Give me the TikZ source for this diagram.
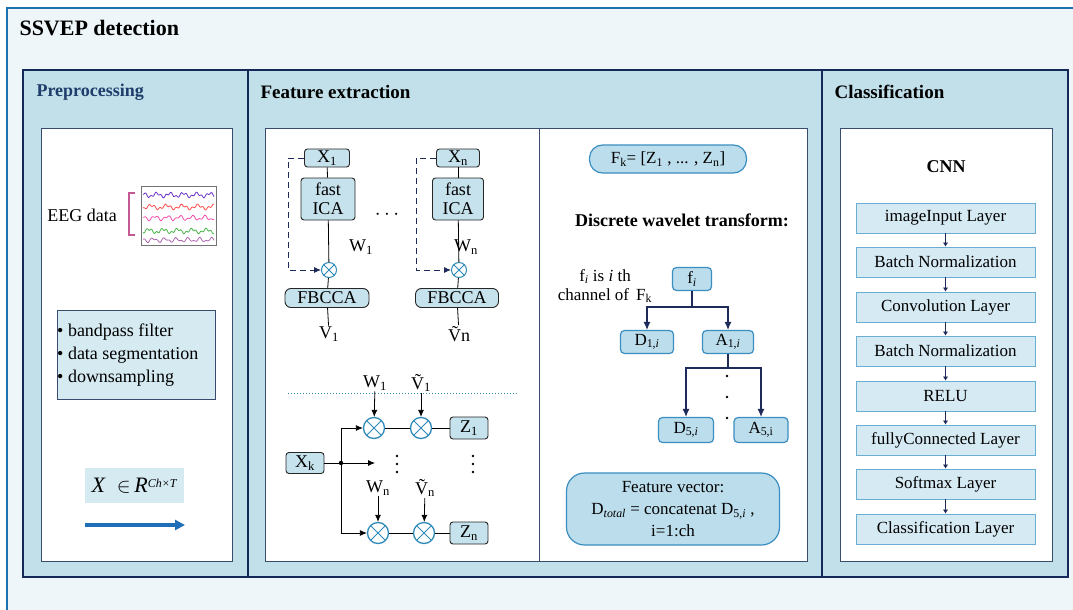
\documentclass[tikz,border=0pt]{standalone}
\usepackage{fontspec}
\setmainfont{Liberation Serif}
\usepackage{tikz}
\usetikzlibrary{arrows.meta,positioning,calc}
\definecolor{OuterFill}{HTML}{EEF6F9}
\definecolor{OuterLine}{HTML}{1F72B0}
\definecolor{PanelFill}{HTML}{C1E0EA}
\definecolor{PanelLine}{HTML}{14285A}
\definecolor{BoxLine}{HTML}{3A4C6E}
\definecolor{IcaFill}{HTML}{C6E2EC}
\definecolor{DwtFill}{HTML}{BCDDEC}
\definecolor{DwtLine}{HTML}{3A8EC0}
\definecolor{LayerFill}{HTML}{D6EAF3}
\definecolor{LayerLine}{HTML}{6BAED3}
\definecolor{MultBlue}{HTML}{2E8AB8}
\definecolor{ArrNavy}{HTML}{1E2A5A}
\definecolor{PreTitle}{HTML}{1F3D6B}
\definecolor{BulletFill}{HTML}{D6EAF2}
\definecolor{XArrow}{HTML}{1E6FB8}

\begin{document}
\begin{tikzpicture}[x=1pt,y=-1pt,
  panel/.style={draw=PanelLine,fill=PanelFill,line width=2.8pt},
  whitebox/.style={draw=BoxLine,fill=white,line width=1pt},
  sectitle/.style={anchor=west,font=\fontsize{19}{22}\selectfont\bfseries},
  body/.style={font=\fontsize{18}{21}\selectfont},
  ica/.style={draw=black!85,fill=IcaFill,rounded corners=3pt,line width=0.9pt,
              inner sep=0pt,align=center,font=\fontsize{18}{19}\selectfont},
  dwt/.style={draw=DwtLine,fill=DwtFill,rounded corners=4pt,line width=1.2pt,
              inner sep=0pt,align=center,font=\fontsize{17}{20}\selectfont},
  layer/.style={draw=LayerLine,fill=LayerFill,line width=0.9pt,minimum width=179pt,
                minimum height=30pt,inner sep=0pt,font=\fontsize{17}{20}\selectfont},
  mult/.style={circle,draw=MultBlue,fill=white,line width=1pt,inner sep=0pt,
               path picture={\draw[MultBlue,line width=1pt]
                 (path picture bounding box.north west) -- (path picture bounding box.south east)
                 (path picture bounding box.north east) -- (path picture bounding box.south west);}},
  link/.style={black,line width=0.8pt},
  arr/.style={-{Latex[length=7pt,width=6pt]},black,line width=0.8pt},
  navyarr/.style={-{Latex[length=8pt,width=7pt]},ArrNavy,line width=1.1pt},
  fbline/.style={-{Latex[length=7pt,width=6pt]},ArrNavy,dashed,dash pattern=on 6pt off 4pt,line width=0.9pt},
  tinyarr/.style={-{Latex[length=4pt,width=5pt]},ArrNavy,line width=0.4pt},
]
\useasboundingbox (0,0) rectangle (1073,610);
\draw[fill=OuterFill,draw=OuterLine,line width=2pt] (7,8) rectangle (1090,625);
\node[anchor=west,font=\fontsize{22}{24}\selectfont\bfseries] (title) at (16,28) {SSVEP detection};

\draw[panel] (23,70) rectangle (248,577);
\draw[panel] (248,70) rectangle (822,577);
\draw[panel] (822,70) rectangle (1068,577);
\node[sectitle,text=PreTitle,font=\fontsize{18}{22}\selectfont\bfseries] (pretitle) at (33,92) {Preprocessing};
\node[sectitle] (feattitle) at (257,92) {Feature extraction};
\node[sectitle] (clstitle) at (831,92) {Classification};

\draw[whitebox] (41,128) rectangle (232,561);
\draw[whitebox] (265,128) rectangle (539,561);
\draw[whitebox] (539,128) rectangle (807,561);
\draw[whitebox] (840,128) rectangle (1052,561);

% preprocessing
\node[body] (eeg) at (82,215) {EEG data};
\draw[draw=black!55,fill=white,line width=0.8pt] (141,186) rectangle (216,245);
\draw[color=magenta!70!black!80,line width=1.2pt] (135,193) -- (129,193) -- (129,235) -- (135,235);
\draw[color=blue!45!violet!80,line width=0.8pt] plot[domain=143:214,samples=80] (\x,{195+1.8*sin(\x*27)+1.2*sin(\x*71)});
\draw[color=red!70,line width=0.8pt] plot[domain=143:214,samples=80] (\x,{207+1.8*sin(\x*23+40)+1.2*sin(\x*67)});
\draw[color=magenta!70,line width=0.8pt] plot[domain=143:214,samples=80] (\x,{218+1.8*sin(\x*29+90)+1.1*sin(\x*61)});
\draw[color=green!60!black!70,line width=0.8pt] plot[domain=143:214,samples=80] (\x,{231+1.8*sin(\x*25+150)+1.2*sin(\x*73)});
\draw[color=violet!60,line width=0.8pt] plot[domain=143:214,samples=80] (\x,{240+1.6*sin(\x*31+200)+1.1*sin(\x*59)});
\draw[draw=BoxLine,fill=BulletFill,line width=0.9pt] (57,310) rectangle (215,399);
\node[body,anchor=west,align=left,inner sep=0pt,font=\fontsize{18}{23}\selectfont] (steps) at (57,355)
  {\textbullet\ bandpass filter\\\textbullet\ data segmentation\\\textbullet\ downsampling};
\node[fill=BulletFill,minimum width=99pt,minimum height=35pt,inner sep=0pt,
      font=\fontsize{22}{24}\selectfont] (xin) at (134.5,485.5)
  {\textit{X}\ \ $\in$\,\textit{R}\raisebox{5pt}{\textit{\fontsize{12}{12}\selectfont Ch×T}}};
\coordinate (xa) at (85,525);
\coordinate (xb) at (185,525);
\draw[-{Triangle[length=10pt,width=10pt]},XArrow,line width=4pt] (xa) -- (xb);

% fast ICA + FBCCA
\node[ica,minimum width=45pt,minimum height=18pt] (x1) at (327,158) {X\textsubscript{1}};
\node[ica,minimum width=54pt,minimum height=42pt] (ica1) at (328,199) {fast\\ICA};
\node[mult,minimum size=15pt] (m1) at (329,270) {};
\node[ica,minimum width=84pt,minimum height=19pt,rounded corners=6pt] (fb1) at (327,298) {FBCCA};
\node[body,inner sep=1pt] (v1) at (329,334) {V\textsubscript{1}};
\node[body] (w1) at (361,247) {W\textsubscript{1}};
\draw[link] (x1) -- (ica1);
\draw[link] (ica1) -- (m1);
\draw[link] (m1) -- (fb1);
\draw[link] (fb1) -- (v1);
\coordinate (d1a) at (288,158);
\coordinate (d1b) at (288,270);
\draw[fbline] (x1.west) -- (d1a) -- (d1b) -- (m1);
\node[font=\fontsize{20}{20}\selectfont] (dots) at (387,215) {$\cdots$};
\node[ica,minimum width=43pt,minimum height=18pt] (xn) at (458,158) {X\textsubscript{n}};
\node[ica,minimum width=51pt,minimum height=42pt] (ica2) at (458,199) {fast\\ICA};
\node[mult,minimum size=15pt] (m2) at (459,270) {};
\node[ica,minimum width=83pt,minimum height=19pt,rounded corners=6pt] (fb2) at (457,298) {FBCCA};
\node[body,inner sep=1pt] (vn) at (459,334) {\~{V}n};
\node[body] (wn) at (466,247) {W\textsubscript{n}};
\draw[link] (xn) -- (ica2);
\draw[link] (ica2) -- (m2);
\draw[link] (m2) -- (fb2);
\draw[link] (fb2) -- (vn);
\coordinate (d2a) at (416,158);
\coordinate (d2b) at (416,270);
\draw[fbline] (xn.west) -- (d2a) -- (d2b) -- (m2);
\coordinate (sepa) at (288,393);
\coordinate (sepb) at (517,393);
\draw[MultBlue,dotted,line width=1pt] (sepa) -- (sepb);

% projection onto W and V
\node[ica,minimum width=38pt,minimum height=21pt] (xk) at (305,463) {X\textsubscript{k}};
\coordinate (jn) at (341,463);
\coordinate (mid) at (375,463);
\node[mult,minimum size=21pt,line width=1.3pt] (p1) at (374,428) {};
\node[mult,minimum size=21pt,line width=1.3pt] (q1) at (421,428) {};
\node[ica,minimum width=38pt,minimum height=22pt] (z1) at (469,428) {Z\textsubscript{1}};
\node[mult,minimum size=21pt,line width=1.3pt] (pn) at (378,533) {};
\node[mult,minimum size=21pt,line width=1.3pt] (qn) at (424,533) {};
\node[ica,minimum width=38pt,minimum height=22pt] (zn) at (469,533) {Z\textsubscript{n}};
\node[body,inner sep=1pt] (lw1) at (375,383) {W\textsubscript{1}};
\node[body,inner sep=1pt] (lv1) at (421,383) {\~{V}\textsubscript{1}};
\node[body,inner sep=1pt] (lwn) at (378,488) {W\textsubscript{n}};
\node[body,inner sep=1pt] (lvn) at (425,488) {\~{V}\textsubscript{n}};
\fill (397,456) circle (1.3);
\fill (397,464) circle (1.3);
\fill (397,472) circle (1.3);
\fill (473,456) circle (1.3);
\fill (473,464) circle (1.3);
\fill (473,472) circle (1.3);
\draw[link] (xk) -- (jn);
\fill (jn) circle (2.2);
\draw[arr] (jn) |- (p1);
\draw[arr] (jn) |- (pn);
\draw[arr] (jn) -- (mid);
\draw[link] (p1) -- (q1);
\draw[link] (q1) -- (z1);
\draw[link] (pn) -- (qn);
\draw[link] (qn) -- (zn);
\draw[arr] (lw1) -- (p1);
\draw[arr] (lv1) -- (q1);
\draw[arr] (lwn) -- (pn);
\draw[arr] (lvn) -- (qn);

% wavelet decomposition
\node[dwt,minimum width=157pt,minimum height=28pt,rounded corners=13pt] (fk) at (668,159)
  {F\textsubscript{k}= [Z\textsubscript{1} , ... , Z\textsubscript{n}]};
\node[font=\fontsize{18}{21}\selectfont\bfseries] (dwtitle) at (682,220) {Discrete wavelet transform:};
\node[body,align=center,font=\fontsize{17}{19}\selectfont] (fnote) at (605,286)
  {f\textsubscript{\textit{i}} is \textit{i} th\\channel of \,F\textsubscript{k}};
\node[dwt,minimum width=39pt,minimum height=23pt] (fi) at (692,279) {f\textsubscript{\textit{i}}};
\node[dwt,minimum width=53pt,minimum height=23pt] (da) at (647,342) {D\textsubscript{1,\textit{i}}};
\node[dwt,minimum width=51pt,minimum height=23pt] (aa) at (728,342) {A\textsubscript{1,\textit{i}}};
\node[dwt,minimum width=55pt,minimum height=25pt] (db) at (686,430) {D\textsubscript{5,\textit{i}}};
\node[dwt,minimum width=54pt,minimum height=25pt] (ab) at (761,430) {A\textsubscript{5,i}};
\coordinate (fbr) at (692,307);
\coordinate (abr) at (728,368);
\draw[ArrNavy,line width=1.1pt] (fi) -- (fbr);
\draw[navyarr] (fbr) -| (da);
\draw[navyarr] (fbr) -| (aa);
\draw[ArrNavy,line width=1.1pt] (aa) -- (abr);
\draw[navyarr] (abr) -| (db);
\draw[navyarr] (abr) -| (ab);
\fill (727,376) circle (1.3);
\fill (727,397) circle (1.3);
\fill (727,418) circle (1.3);
\node[dwt,minimum width=213pt,minimum height=72pt,rounded corners=18pt,font=\fontsize{17}{22}\selectfont] (fv) at (673,509)
  {Feature vector:\\D\textsubscript{\textit{total}} = concatenat D\textsubscript{5,\textit{i}} ,\\i=1:ch};

% CNN
\node[font=\fontsize{18}{21}\selectfont\bfseries] (cnn) at (946,167) {CNN};
\node[layer] (l1) at (945.5,218) {imageInput Layer};
\node[layer] (l2) at (945.5,262) {Batch Normalization};
\node[layer] (l3) at (945.5,307) {Convolution Layer};
\node[layer] (l4) at (945.5,351) {Batch Normalization};
\node[layer] (l5) at (945.5,396) {RELU};
\node[layer] (l6) at (945.5,440) {fullyConnected Layer};
\node[layer] (l7) at (945.5,484) {Softmax Layer};
\node[layer] (l8) at (945.5,529) {Classification Layer};
\draw[tinyarr] (l1) -- (l2);
\draw[tinyarr] (l2) -- (l3);
\draw[tinyarr] (l3) -- (l4);
\draw[tinyarr] (l4) -- (l5);
\draw[tinyarr] (l5) -- (l6);
\draw[tinyarr] (l6) -- (l7);
\draw[tinyarr] (l7) -- (l8);
\end{tikzpicture}
\end{document}
